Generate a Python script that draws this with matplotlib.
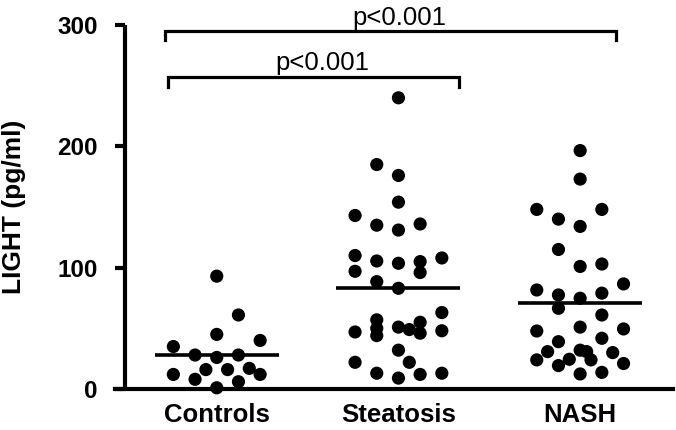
import numpy as np
import matplotlib
matplotlib.use("Agg")
import matplotlib.pyplot as plt

# ---- data ----
groups = ["Controls", "Steatosis", "NASH"]

controls_vals = [93, 61, 45, 35, 40, 28, 26, 28, 16, 16, 17, 12, 8, 12, 6, 1]
controls_cols = [0, 1, 0, -2, 2, -1, 0, 1, -0.5, 0.5, 1.5, -2, -1, 2, 1, 0]

steatosis_vals = [240, 185, 176, 154, 143, 135, 131, 136, 110, 97, 105.5, 103.6,
                  105, 96, 108, 88.5, 83, 63, 47, 57, 50, 44, 51, 49, 55, 46, 48,
                  32, 22, 22, 13, 9, 12, 13]
steatosis_cols = [0, -1, 0, 0, -2, -1, 0, 1, -2, -2, -1, 0,
                  1, 1, 2, -1, 0, 2, -2, -1, -1, -1, 0, 0.5, 1, 1, 2,
                  0, 0.5, -2, -1, 0, 1, 2]

nash_vals = [196.5, 173, 148, 148, 140, 134, 115, 101, 103, 81.6, 86.6, 77.5,
             74.8, 79, 66.5, 61, 51, 47.8, 49.5, 39, 41.8, 30.8, 32, 30.8, 30,
             24, 24.5, 24, 19.3, 21, 12.4, 13.7]
nash_cols = [0, 0, -2, 1, -1, 0, -1, 0, 1, -2, 2, -1,
             0, 1, -1, 1, 0, -2, 2, -1, 1, -1.5, 0, 0.3, 1.5,
             -2, -0.5, 0.5, -1, 2, 0, 1]

yticks = [0, 100, 200, 300]
p_labels = ["p<0.001", "p<0.001"]

values = [controls_vals, steatosis_vals, nash_vals]
cols = [controls_cols, steatosis_cols, nash_cols]

# ---- figure ----
fig = plt.figure(figsize=(6.76, 4.30), dpi=100)
ax = fig.add_axes([115 / 676, 41 / 430, 558 / 676, 364 / 430])

step = 0.1194
for i, (v, c) in enumerate(zip(values, cols)):
    x = i + np.array(c) * step
    ax.scatter(x, v, s=90, color="black", edgecolors="none", zorder=3,
               clip_on=False)
    m = np.mean(v)
    ax.plot([i - 0.341, i + 0.341], [m, m], color="black", lw=2.6,
            solid_capstyle="butt", zorder=2)

ax.set_xlim(-0.560, 2.511)
ax.set_ylim(0, 300)

# spines
for s in ["top", "right"]:
    ax.spines[s].set_visible(False)
ax.spines["left"].set_position(("data", -0.505))
ax.spines["left"].set_linewidth(3.0)
ax.spines["bottom"].set_linewidth(3.0)
ax.spines["left"].set_capstyle("butt")

ax.set_yticks(yticks)
ax.set_yticklabels([str(t) for t in yticks])
ax.tick_params(axis="y", direction="out", length=7.2, width=3.0, pad=12.5)
ax.set_xticks(range(len(groups)))
ax.set_xticklabels(groups)
ax.tick_params(axis="x", length=0, pad=10)

for lab in ax.get_yticklabels():
    lab.set_fontfamily("Liberation Sans")
    lab.set_fontweight("bold")
    lab.set_fontsize(17.5)
for lab in ax.get_xticklabels():
    lab.set_fontfamily("Liberation Sans")
    lab.set_fontweight("bold")
    lab.set_fontsize(18.5)

ax.set_ylabel("LIGHT (pg/ml)", fontfamily="Liberation Sans",
              fontweight="bold", fontsize=19)
ax.yaxis.set_label_coords(-0.160, 0.5)

# significance brackets
def bracket(x0, x1, y, yb, text, tx, ty):
    ax.plot([x0, x0, x1, x1], [yb, y, y, yb], color="black", lw=2.3,
            clip_on=False, solid_joinstyle="miter")
    ax.text(tx, ty, text, ha="center", va="baseline",
            fontfamily="Liberation Sans", fontsize=18.5, clip_on=False)

bracket(0 - 0.284, 2 + 0.197, 295.3, 287.6, p_labels[0], 1.003, 300)
bracket(0 - 0.268, 1 + 0.334, 257.5, 249.0, p_labels[1], 0.582, 263)

fig.savefig("out.png", dpi=100)
